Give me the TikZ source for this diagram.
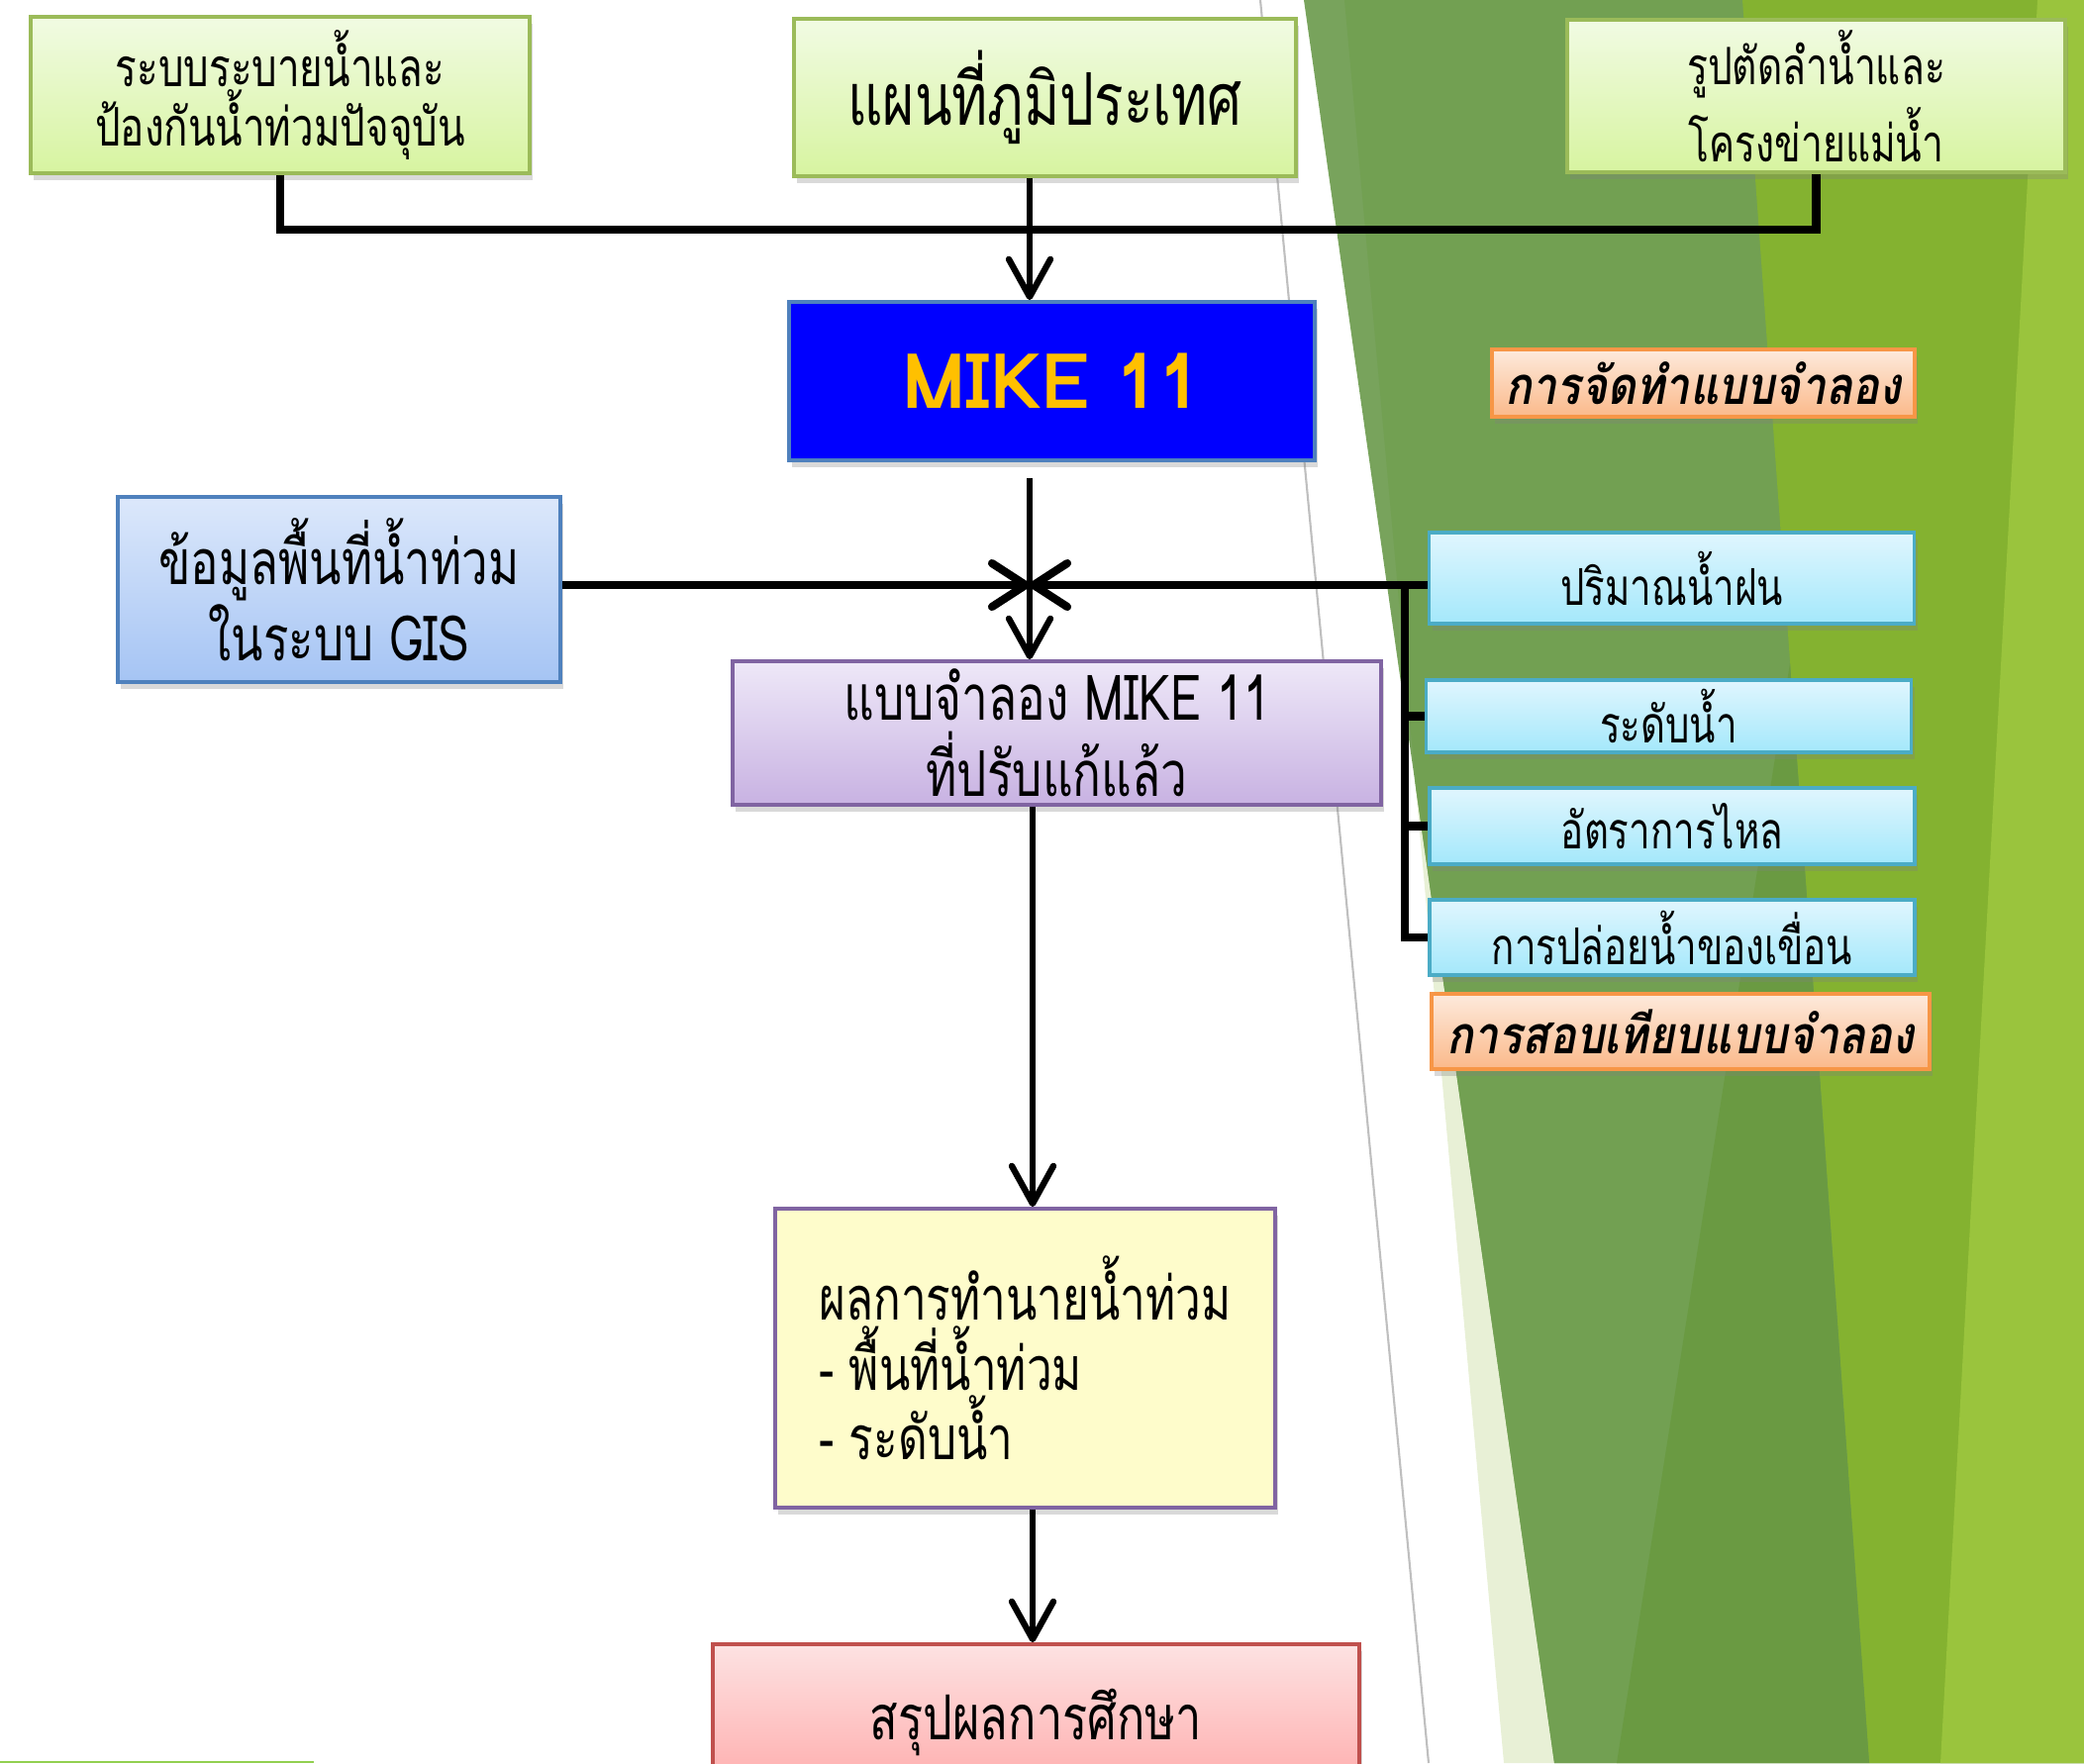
\documentclass[tikz,border=0pt]{standalone}
\usepackage{fontspec}
\usepackage{tikz}
\newfontfamily\thaifont[Script=Thai]{Loma}
\newfontfamily\thaicond[Script=Thai, FakeStretch=0.75]{Loma}
\newfontfamily\thaitag[Script=Thai, FakeStretch=0.85]{Loma}
\usetikzlibrary{arrows.meta, positioning, calc, shadows}
\definecolor{facetolive}{HTML}{9BBB59}
\definecolor{limetop}{HTML}{F1FBE3}
\definecolor{limebot}{HTML}{D7F4A0}
\definecolor{officeblue}{HTML}{4F81BD}
\definecolor{pureblue}{HTML}{0000FF}
\definecolor{mikegold}{HTML}{FFC000}
\definecolor{orangeedge}{HTML}{F79646}
\definecolor{peachtop}{HTML}{FDEADC}
\definecolor{peachbot}{HTML}{FBB98A}
\definecolor{skytop}{HTML}{DCE8FB}
\definecolor{skybot}{HTML}{A5C4F4}
\definecolor{purpleedge}{HTML}{8064A2}
\definecolor{lilactop}{HTML}{EEE8F8}
\definecolor{lilacbot}{HTML}{C8B2E2}
\definecolor{aquaedge}{HTML}{4BACC6}
\definecolor{aquatop}{HTML}{E0F6FE}
\definecolor{aquabot}{HTML}{A4E8FB}
\definecolor{creamfill}{HTML}{FEFCCB}
\definecolor{rededge}{HTML}{C0504D}
\definecolor{rosetop}{HTML}{FDE2E2}
\definecolor{rosebot}{HTML}{FFA8A8}
\definecolor{palestrip}{HTML}{E8F0D6}
\definecolor{leaflight}{HTML}{78A35C}
\definecolor{leafmid}{HTML}{72A052}
\definecolor{leafdark}{HTML}{6A9A42}
\definecolor{leafbright}{HTML}{84B230}
\definecolor{leaflime}{HTML}{9AC43D}
\definecolor{footline}{HTML}{92D050}

\begin{document}
\begin{tikzpicture}[
    x=1cm, y=1cm,
    box/.style={rectangle, inner sep=0pt, align=center, line width=1.1pt,
      drop shadow={shadow xshift=0.3mm, shadow yshift=-0.7mm, opacity=0.3}},
    source/.style={box, draw=facetolive, top color=limetop, bottom color=limebot},
    engine/.style={box, draw=officeblue, fill=pureblue, text=mikegold},
    stage/.style={box, draw=orangeedge, top color=peachtop, bottom color=peachbot, font=\thaitag\bfseries\itshape\fontsize{15}{18}\selectfont},
    gisbox/.style={box, draw=officeblue, top color=skytop, bottom color=skybot},
    model/.style={box, draw=purpleedge, top color=lilactop, bottom color=lilacbot},
    series/.style={box, draw=aquaedge, top color=aquatop, bottom color=aquabot, minimum width=4.9cm, font=\thaicond\fontsize{14.6}{17}\selectfont},
    outcome/.style={box, draw=purpleedge, fill=creamfill},
    closing/.style={box, draw=rededge, top color=rosetop, bottom color=rosebot},
    link/.style={line width=2.3pt},
    feed/.style={line width=1.8pt, -{Straight Barb[length=3.8mm,width=4.2mm,round]}},
    merge/.style={line width=2.3pt, -{Straight Barb[length=3.4mm,width=4.4mm,round]}}
]
\useasboundingbox (0,0) rectangle (21.05,-17.81);

% Background
\fill[palestrip] (13.58,0) -- (15.19,-17.81) -- (21.05,-17.81) -- (21.05,0) -- cycle;
\fill[leaflight] (13.17,0) -- (15.70,-17.81) -- (21.05,-17.81) -- (21.05,0) -- cycle;
\fill[leafmid] (13.58,0) -- (14.30,-7.95) -- (15.70,-17.81) -- (21.05,-17.81) -- (21.05,0) -- cycle;
\fill[leafbright] (17.60,0) -- (18.88,-17.81) -- (21.05,-17.81) -- (21.05,0) -- cycle;
\fill[leafdark] (18.08,-6.70) -- (16.33,-17.81) -- (18.88,-17.81) -- cycle;
\fill[leaflime] (20.58,0) -- (19.60,-17.81) -- (21.05,-17.81) -- (21.05,0) -- cycle;
\draw[black!25, line width=0.6pt] (12.73,0) -- (14.43,-17.81);
\draw[footline, line width=0.8pt] (0,-17.80) -- (3.17,-17.80);

% Nodes
\node[source, minimum width=5.04cm, minimum height=1.58cm, font=\thaicond\fontsize{15.3}{17}\selectfont] (drain) at (2.83,-0.96) {ระบบระบายน้ำและ\\ป้องกันน้ำท่วมปัจจุบัน};
\node[source, minimum width=5.07cm, minimum height=1.59cm, font=\thaicond\fontsize{20.9}{24}\selectfont] (topo) at (10.555,-0.985) {แผนที่ภูมิประเทศ};
\node[source, minimum width=5.03cm, minimum height=1.54cm, font=\thaicond\fontsize{14.8}{22}\selectfont] (xsec) at (18.345,-0.97) {รูปตัดลำน้ำและ\\โครงข่ายแม่น้ำ};
\node[engine, minimum width=5.31cm, minimum height=1.60cm, font=\thaifont\bfseries\fontsize{22}{26}\selectfont] (mike) at (10.625,-3.85) {MIKE 11};
\node[stage, minimum width=4.27cm, minimum height=0.68cm] (build) at (17.205,-3.87) {การจัดทำแบบจำลอง};
\node[gisbox, minimum width=4.47cm, minimum height=1.87cm, font=\thaicond\fontsize{18}{20}\selectfont] (gis) at (3.425,-5.955) {ข้อมูลพื้นที่น้ำท่วม\\ในระบบ GIS};
\node[model, minimum width=6.55cm, minimum height=1.45cm, font=\thaicond\fontsize{18.1}{22}\selectfont] (calib) at (10.675,-7.405) {แบบจำลอง MIKE 11\\ที่ปรับแก้แล้ว};
\node[series, minimum height=0.92cm] (rain) at (16.885,-5.84) {ปริมาณน้ำฝน};
\node[series, minimum height=0.73cm] (level) at (16.855,-7.235) {ระดับน้ำ};
\node[series, minimum height=0.77cm] (flow) at (16.89,-8.345) {อัตราการไหล};
\node[series, minimum height=0.76cm] (dam) at (16.89,-9.47) {การปล่อยน้ำของเขื่อน};
\node[stage, minimum width=5.03cm, minimum height=0.76cm] (check) at (16.975,-10.42) {การสอบเทียบแบบจำลอง};
\node[outcome, minimum width=5.05cm, minimum height=3.02cm, align=left, font=\thaicond\fontsize{17.4}{20}\selectfont] (result) at (10.355,-13.72) {ผลการทำนายน้ำท่วม\\- พื้นที่น้ำท่วม\\- ระดับน้ำ};
\node[closing, minimum width=6.53cm, minimum height=1.58cm, font=\thaicond\fontsize{17.8}{20}\selectfont] (summary) at (10.465,-17.40) {สรุปผลการศึกษา};

% Junctions
\coordinate (spine) at (10.40,0);
\coordinate (bus) at (10.40,-2.32);
\coordinate (hub) at (10.40,-5.91);
\coordinate (rail) at (14.19,-5.91);
\coordinate (lowspine) at (10.43,0);

% Arrows
\draw[link] (drain.south) |- (bus) -| (xsec.south);
\draw[feed] (topo.south -| spine) -- (mike.north -| spine);
\draw[feed, shorten <=1.6mm] (mike.south -| spine) -- (calib.north -| spine);
\draw[merge] (gis.east |- hub) -- (hub);
\draw[merge] (rain.west |- hub) -- (hub);
\draw[link] (rail) |- (dam.west);
\draw[link] (rail |- level.west) -- (level.west);
\draw[link] (rail |- flow.west) -- (flow.west);
\draw[feed] (calib.south -| lowspine) -- (result.north -| lowspine);
\draw[feed] (result.south -| lowspine) -- (summary.north -| lowspine);

\end{tikzpicture}
\end{document}
